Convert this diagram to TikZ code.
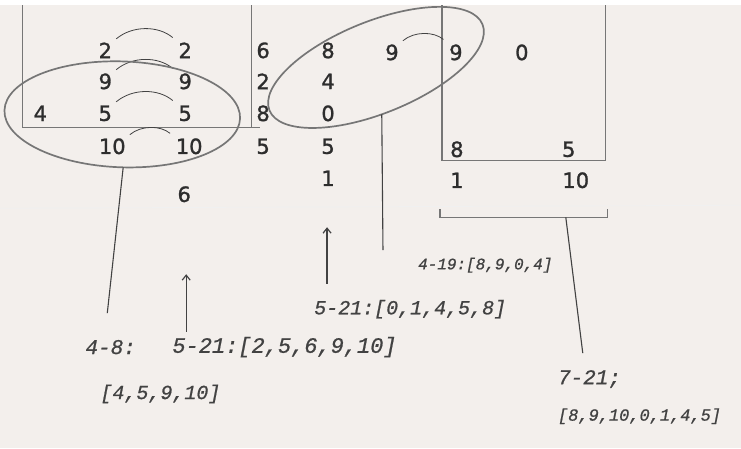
\documentclass[tikz,border=0pt]{standalone}
\usepackage{fontspec}
\usepackage{xcolor}
\usepackage{tikz}
\usetikzlibrary{shapes.geometric, arrows.meta, positioning, calc}
\newfontfamily\printfont[FakeBold=1.3]{DejaVu Sans}
\newfontfamily\handfont[FakeBold=0.8]{Liberation Mono}
\definecolor{paper}{RGB}{243,239,236}
\definecolor{pencil}{RGB}{118,118,118}
\definecolor{ink}{RGB}{45,45,45}

\begin{document}
\begin{tikzpicture}[
    x=1pt, y=-1pt,
    num/.style={font=\printfont\fontsize{21}{21}\selectfont, text=ink, inner sep=1pt},
    hand/.style={font=\handfont\itshape\fontsize{#1}{#1}\selectfont, text=ink!90, inner sep=0pt},
    ring/.style={draw=pencil, line width=1.7pt, ellipse, inner sep=0pt, outer sep=0pt},
    rule/.style={draw=pencil, line width=1.2pt},
    tie/.style={draw=ink!90, line width=0.8pt, bend left=40, shorten <=4pt, shorten >=6pt},
    lead/.style={draw=ink!90, line width=1.1pt},
    arrow/.style={-{Straight Barb[length=5pt, width=8pt]}, draw=ink!90, line width=1.2pt}
]

\fill[paper] (0,0) rectangle (741,443);
\draw[black!6, line width=0.8pt] (0,203) -- (741,200);

% boxes and bracket
\draw[rule] (22,0) -- (22,122) -- (260,122);
\draw[rule] (251,0) -- (251,122);
\draw[rule] (442,0) -- (442,155) -- (606,155) -- (606,0);
\draw[rule] (440,204) -- (440,212) -- coordinate[pos=0.75] (brk) (608,212) -- (608,204);

% numbers
\node[num] (a4) at (40,108) {4};
\node[num] (b2) at (105,45) {2};
\node[num] (b9) at (105,76) {9};
\node[num] (b5) at (105,108) {5};
\node[num] (b10) at (112,141) {10};
\node[num] (c2) at (185,45) {2};
\node[num] (c9) at (185,76) {9};
\node[num] (c5) at (185,108) {5};
\node[num] (c10) at (189,141) {10};
\node[num] (c6) at (184,189) {6};
\node[num] (d6) at (263,45) {6};
\node[num] (d2) at (263,76) {2};
\node[num] (d8) at (263,108) {8};
\node[num] (d5) at (263,141) {5};
\node[num] (e8) at (328,45) {8};
\node[num] (e4) at (328,76) {4};
\node[num] (e0) at (328,108) {0};
\node[num] (e5) at (328,141) {5};
\node[num] (e1) at (328,173) {1};
\node[num] (f9) at (392,47) {9};
\node[num] (g9) at (456,47) {9};
\node[num] (h0) at (522,47) {0};
\node[num] (g8) at (457,144) {8};
\node[num] (i5) at (569,144) {5};
\node[num] (g1) at (457,175) {1};
\node[num] (i10) at (576,175) {10};

\draw[tie] (b2.north east) to (c2.north west);
\draw[tie] (b9.north east) to (c9.north west);
\draw[tie] (b5.north east) to (c5.north west);
\draw[tie] (b10.north east) to (c10.north west);
\draw[tie] (f9.north east) to (g9.north west);

% groups
\node[ring, minimum width=236pt, minimum height=106pt, rotate=-2] (ringA) at (122,109) {};
\node[ring, minimum width=230pt, minimum height=92pt, rotate=22] (ringB) at (376,62) {};

% notes
\node[hand=21, anchor=west] (lab48) at (85,342) {4-8:};
\node[hand=20, below right=30pt and 15pt of lab48.south west] (setA) {[4,5,9,10]};
\node[hand=22, anchor=west] (labA) at (172,342) {5-21:[2,5,6,9,10]};
\node[hand=16, anchor=west] (labB) at (418,260) {4-19:[8,9,0,4]};
\node[hand=20, anchor=west] (labC) at (314,304) {5-21:[0,1,4,5,8]};
\node[hand=21, anchor=west] (labD) at (558,374) {7-21;};
\node[hand=17, below right=20pt and 0pt of labD.south west] (setD) {[8,9,10,0,1,4,5]};

\coordinate (endA) at (107,308);
\coordinate (endB) at (383,245);
\coordinate (endC) at (583,348);
\coordinate (tipA) at (186,269);
\coordinate (tipB) at (327,222);

\draw[lead] (ringA.-87) -- (endA);
\draw[lead] (ringB.-105) -- (endB);
\draw[lead] (brk) -- (endC);
\draw[arrow, shorten <=5pt] (tipA |- labA.north) -- (tipA);
\draw[arrow, shorten <=16pt] (tipB |- labC.north) -- (tipB);

\end{tikzpicture}
\end{document}
